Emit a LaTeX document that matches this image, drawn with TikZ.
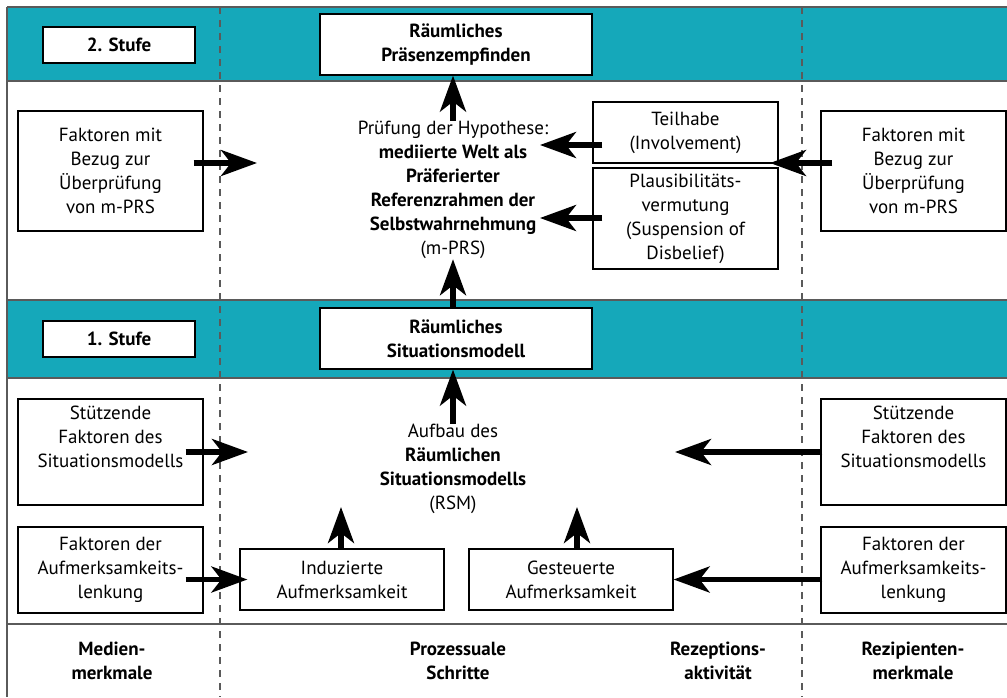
\documentclass[tikz,border=0pt]{standalone}
\usepackage{fontspec}
\setmainfont{PT Sans}
\usetikzlibrary{positioning,arrows.meta}
\definecolor{petrol}{HTML}{15A8BA}
\definecolor{linie}{HTML}{5A5A5A}

\begin{document}
\begin{tikzpicture}[x=0.5pt, y=-0.5pt,
    every node/.style={font=\fontsize{9.5}{12}\selectfont, align=center, inner sep=0pt},
    kasten/.style={draw, fill=white, line width=0.6pt},
    stufe/.style={kasten, font=\fontsize{9.5}{12}\selectfont\bfseries},
    marke/.style={font=\fontsize{9.5}{12}\selectfont\bfseries},
    pfeil/.style={line width=2.6pt, -{Stealth[length=18pt, width=13pt, inset=5pt]}},
    trenner/.style={draw=linie, line width=0.7pt},
    spalte/.style={draw=linie, line width=0.6pt, dash pattern=on 3.5pt off 3pt}]
  \useasboundingbox (0,0) rectangle (1007,697);

  %----- Bänder -----
  \fill[petrol] (7,7) rectangle (1007,81);
  \fill[petrol] (7,300) rectangle (1007,378);

  %----- Spalten und Linien -----
  \foreach \x in {220,802}
    \draw[spalte] (\x,7) -- (\x,697);
  \foreach \y in {7,81,300,378,624}
    \draw[trenner] (7,\y) -- (1007,\y);
  \draw[trenner] (7,7) -- (7,697);

  %----- 2. Stufe -----
  \node[stufe, minimum width=76pt, minimum height=18pt] (stufeZwei) at (119,45) {2. Stufe};
  \node[stufe, minimum width=136pt, minimum height=30.5pt] (praesenz) at (456,44.5)
    {Räumliches\\Präsenzempfinden};
  \node[kasten, minimum width=92.5pt, minimum height=60pt] (mprsL) at (110.5,171)
    {Faktoren mit\\Bezug zur\\Überprüfung\\von m-PRS};
  \node[kasten, minimum width=92.5pt, minimum height=60pt] (mprsR) at (913.5,171)
    {Faktoren mit\\Bezug zur\\Überprüfung\\von m-PRS};
  \node (hypo) at (453,190)
    {Prüfung der Hypothese:\\\textbf{mediierte Welt als}\\\textbf{Präferierter}\\
     \textbf{Referenzrahmen der}\\\textbf{Selbstwahrnehmung}\\(m-PRS)};
  \node[kasten, minimum width=92.5pt, minimum height=30.5pt] (teilhabe) at (685.5,132.5)
    {Teilhabe\\(Involvement)};
  \node[kasten, minimum width=92.5pt, minimum height=50.5pt] (plausi) at (685.5,218.5)
    {Plausibilitäts-\\vermutung\\(Suspension of\\Disbelief)};

  %----- 1. Stufe -----
  \node[stufe, minimum width=76pt, minimum height=18pt] (stufeEins) at (119,339) {1. Stufe};
  \node[stufe, minimum width=136pt, minimum height=30.5pt] (situation) at (456,338.5)
    {Räumliches\\Situationsmodell};
  \node (aufbau) at (453,469)
    {Aufbau des\\\textbf{Räumlichen}\\\textbf{Situationsmodells}\\(RSM)};
  \node[kasten, minimum width=92.5pt, minimum height=53pt] (stuetzL) at (110.5,452)
    {Stützende\\Faktoren des\\Situationsmodells\\\strut};
  \node[kasten, minimum width=92.5pt, minimum height=53pt] (stuetzR) at (913.5,452)
    {Stützende\\Faktoren des\\Situationsmodells\\\strut};
  \node[kasten, minimum width=92.5pt, minimum height=43pt] (lenkL) at (110.5,570)
    {Faktoren der\\Aufmerksamkeits-\\lenkung};
  \node[kasten, minimum width=92.5pt, minimum height=43pt] (lenkR) at (913.5,570)
    {Faktoren der\\Aufmerksamkeits-\\lenkung};
  \node[kasten, minimum width=102pt, minimum height=30.5pt] (induz) at (342,579.5)
    {Induzierte\\Aufmerksamkeit};
  \node[kasten, minimum width=102pt, minimum height=30.5pt] (gesteu) at (571,579.5)
    {Gesteuerte\\Aufmerksamkeit};

  %----- Spaltenköpfe unten -----
  \node[marke] (medien)  at (112,661) {Medien-\\merkmale};
  \node[marke] (prozess) at (458,661) {Prozessuale\\Schritte};
  \node[marke] (rezept)  at (718,661) {Rezeptions-\\aktivität};
  \node[marke] (rezip)   at (913,661) {Rezipienten-\\merkmale};

  %----- Pfeilziele -----
  \coordinate (zielL)   at (257,163);
  \coordinate (zielR)   at (770,163);
  \coordinate (zielTe)  at (540,145);
  \coordinate (zielPl)  at (540,218);
  \coordinate (zielStL) at (248,452);
  \coordinate (zielStR) at (675,452);
  \coordinate (zielIn)  at (341,507);
  \coordinate (zielGe)  at (577,507);

  %----- Pfeile -----
  \draw[pfeil] (hypo.north) -- (hypo.north |- praesenz.south);
  \draw[pfeil] (situation.north -| hypo) -- (hypo.south);
  \draw[pfeil] (aufbau.north) -- (aufbau.north |- situation.south);
  \draw[pfeil, shorten <=-5pt] (mprsL.east |- zielL) -- (zielL);
  \draw[pfeil, shorten <=-6pt] (mprsR.west |- zielR) -- (zielR);
  \draw[pfeil, shorten <=-5pt] (teilhabe.west |- zielTe) -- (zielTe);
  \draw[pfeil, shorten <=-5pt] (plausi.west |- zielPl) -- (zielPl);
  \draw[pfeil, shorten <=-9pt] (stuetzL.east) -- (zielStL);
  \draw[pfeil, shorten <=-1pt] (stuetzR.west) -- (zielStR);
  \draw[pfeil, shorten <=-9pt, shorten >=-4pt] (lenkL.east |- induz.west) -- (induz.west);
  \draw[pfeil, shorten <=-1pt] (lenkR.west |- gesteu.east) -- (gesteu.east);
  \draw[pfeil] (induz.north -| zielIn) -- (zielIn);
  \draw[pfeil] (gesteu.north -| zielGe) -- (zielGe);
\end{tikzpicture}
\end{document}
